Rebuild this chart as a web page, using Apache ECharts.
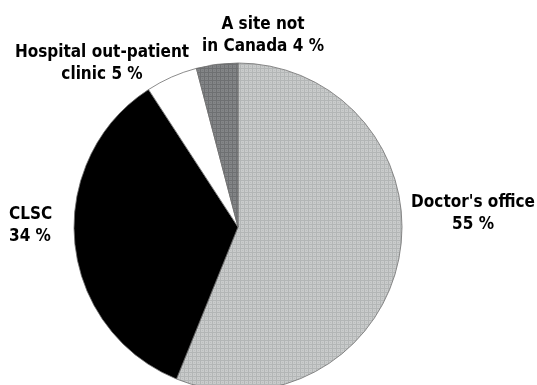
<!DOCTYPE html>
<html>
<head>
<meta charset="utf-8">
<script src="https://cdn.jsdelivr.net/npm/echarts@6/dist/echarts.min.js"></script>
<style>
html,body{margin:0;padding:0;background:#fff;}
#chart{width:537px;height:385px;}
</style>
</head>
<body>
<div id="chart"></div>
<script>
// Data
var categories = ["Doctor's office", "CLSC", "Hospital out-patient clinic", "A site not in Canada"];
var labelTexts = ["Doctor's office\n", "CLSC\n", "Hospital out-patient\nclinic ", "A site not\nin Canada "];
var values = [55, 34, 5, 4];

function makePattern(base, line, dot) {
  var c = document.createElement('canvas');
  c.width = 4; c.height = 4;
  var g = c.getContext('2d');
  g.fillStyle = base; g.fillRect(0, 0, 4, 4);
  g.fillStyle = line;
  g.fillRect(0, 0, 4, 1);
  g.fillRect(0, 0, 1, 4);
  g.fillStyle = dot;
  g.fillRect(2, 2, 1, 1);
  return c;
}
var lightPat = makePattern('#c9cbcb', '#b3b6b6', '#babdbd');
var darkPat = makePattern('#838587', '#6e7072', '#77797b');

var fills = [
  {image: lightPat, repeat: 'repeat'},
  '#000000',
  '#ffffff',
  {image: darkPat, repeat: 'repeat'}
];

var labelPos = [
  {x: 473, y: 214, align: 'center'},
  {x: 9, y: 226, align: 'left'},
  {x: 102, y: 64, align: 'center'},
  {x: 263, y: 36, align: 'center'}
];

var chart = echarts.init(document.getElementById('chart'), null, {renderer: 'canvas'});
chart.setOption({
  animation: false,
  backgroundColor: '#ffffff',
  series: [{
    type: 'pie',
    center: [238, 227],
    radius: 164,
    startAngle: 90,
    clockwise: true,
    avoidLabelOverlap: false,
    data: categories.map(function (n, i) {
      return {
        name: n,
        value: values[i],
        itemStyle: {color: fills[i]}
      };
    }),
    itemStyle: {borderColor: '#6f6f6f', borderWidth: 0.8},
    label: {
      show: true,
      position: 'outside',
      formatter: function (p) { return labelTexts[p.dataIndex] + p.value + ' %'; },
      fontFamily: 'DejaVu Sans Condensed',
      fontWeight: 'bold',
      fontSize: 17,
      lineHeight: 22,
      color: '#000'
    },
    labelLine: {show: false},
    labelLayout: function (p) {
      var lp = labelPos[p.dataIndex];
      return {x: lp.x, y: lp.y, align: lp.align, verticalAlign: 'middle'};
    },
    emphasis: {disabled: true}
  }]
});
</script>
</body>
</html>
